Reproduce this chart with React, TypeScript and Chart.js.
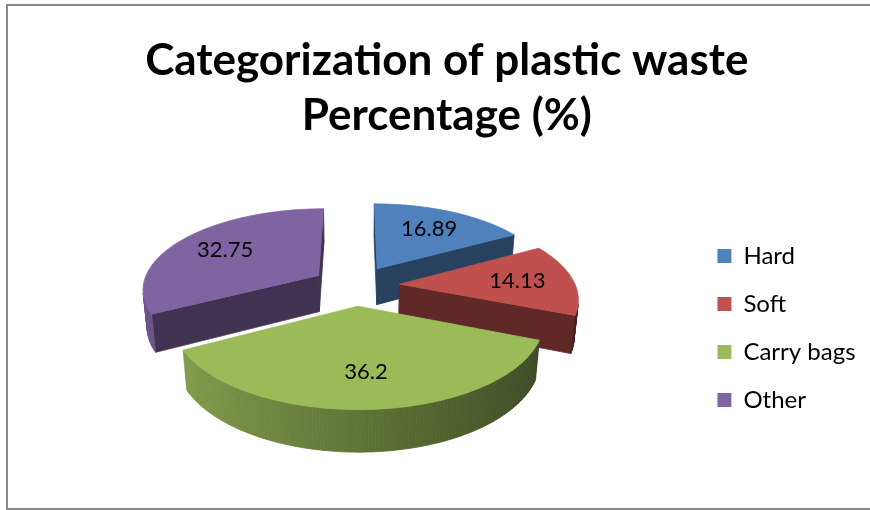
import { useEffect, useRef } from "react";
import { Chart, registerables } from "chart.js";

Chart.register(...registerables);

// Chart content
const titleLines = ["Categorization of plastic waste", "Percentage (%)"];
const categories = ["Hard", "Soft", "Carry bags", "Other"];
const shares = [16.89, 14.13, 36.2, 32.75];
const sliceColors = ["#4F81BD", "#C0504D", "#9BBB59", "#8064A2"];

// 3D view settings (pixels / degrees)
const PIE_RADIUS = 176;
const EXPLODE = 44;
const THICKNESS = 42;
const VIEW_DISTANCE = 1003;
const TILT_DEG = 27;
const LABEL_AT = 0.68;
const CUT_FACE_SHADE = 0.5;

type V3 = [number, number, number];

function hexToRgb(hex: string): [number, number, number] {
  const n = parseInt(hex.slice(1), 16);
  return [(n >> 16) & 255, (n >> 8) & 255, n & 255];
}

function shade(hex: string, f: number): string {
  const [r, g, b] = hexToRgb(hex);
  return `rgb(${Math.round(r * f)},${Math.round(g * f)},${Math.round(b * f)})`;
}

const tilt = (TILT_DEG * Math.PI) / 180;
const sinT = Math.sin(tilt);
const cosT = Math.cos(tilt);

// perspective projection; world X right, Y toward the viewer, Z up
function project(ox: number, oy: number, p: V3): [number, number] {
  const den = VIEW_DISTANCE - p[1] * cosT - p[2] * sinT;
  const k = VIEW_DISTANCE / den;
  return [ox + p[0] * k, oy + (p[1] * sinT - p[2] * cosT) * k];
}

// is a vertical face with horizontal normal n through point p facing the camera
function facesCamera(p: V3, nx: number, ny: number): boolean {
  const cx = 0 - p[0];
  const cy = VIEW_DISTANCE * cosT - p[1];
  return cx * nx + cy * ny > 0;
}

function fillPoly(ctx: CanvasRenderingContext2D, pts: [number, number][], color: string) {
  ctx.beginPath();
  pts.forEach(([x, y], i) => (i ? ctx.lineTo(x, y) : ctx.moveTo(x, y)));
  ctx.closePath();
  ctx.fillStyle = color;
  ctx.strokeStyle = color;
  ctx.lineWidth = 0.8;
  ctx.fill();
  ctx.stroke();
}

const pie3d = {
  id: "pie3d",
  beforeDatasetsDraw(chart: any) {
    const ctx: CanvasRenderingContext2D = chart.ctx;
    const meta = chart.getDatasetMeta(0);
    const values: number[] = chart.data.datasets[0].data;
    const colors: string[] = chart.data.datasets[0].backgroundColor;

    const slices = meta.data.map((arc: any, i: number) => {
      const { x, y, startAngle, endAngle, outerRadius } = arc.getProps(
        ["x", "y", "startAngle", "endAngle", "outerRadius"],
        true
      );
      const mid = (startAngle + endAngle) / 2;
      const off = arc.options.offset || 0;
      const ex = Math.cos(mid) * off;
      const ey = Math.sin(mid) * off;
      const steps = Math.max(2, Math.ceil(((endAngle - startAngle) * 180) / Math.PI));
      const angles: number[] = [];
      for (let j = 0; j <= steps; j++) angles.push(startAngle + ((endAngle - startAngle) * j) / steps);
      return { i, x, y, startAngle, endAngle, mid, r: outerRadius, ex, ey, angles };
    });

    const rimPoint = (s: any, a: number, z: number): V3 => [
      s.ex + s.r * Math.cos(a),
      s.ey + s.r * Math.sin(a),
      z,
    ];

    // centre the projected solid on the chart area centre
    let minX = Infinity, maxX = -Infinity, minY = Infinity, maxY = -Infinity;
    slices.forEach((s: any) => {
      const pts: V3[] = [[s.ex, s.ey, 0], [s.ex, s.ey, -THICKNESS]];
      s.angles.forEach((a: number) => {
        pts.push(rimPoint(s, a, 0), rimPoint(s, a, -THICKNESS));
      });
      pts.forEach((p) => {
        const [px, py] = project(0, 0, p);
        minX = Math.min(minX, px); maxX = Math.max(maxX, px);
        minY = Math.min(minY, py); maxY = Math.max(maxY, py);
      });
    });
    const cx = slices.length ? slices[0].x : 0;
    const cy = slices.length ? slices[0].y : 0;
    const ox = cx - (minX + maxX) / 2;
    const oy = cy - (minY + maxY) / 2;
    const P = (p: V3) => project(ox, oy, p);

    // back-to-front
    const order = [...slices].sort((a: any, b: any) => Math.sin(a.mid) - Math.sin(b.mid));

    ctx.save();
    order.forEach((s: any) => {
      const base = colors[s.i];
      const cTop: V3 = [s.ex, s.ey, 0];
      const cBot: V3 = [s.ex, s.ey, -THICKNESS];

      // radial cut faces
      const cuts = [
        { a: s.startAngle, nx: Math.sin(s.startAngle), ny: -Math.cos(s.startAngle) },
        { a: s.endAngle, nx: -Math.sin(s.endAngle), ny: Math.cos(s.endAngle) },
      ];
      cuts.forEach((cut) => {
        const eTop = rimPoint(s, cut.a, 0);
        const midP: V3 = [(cTop[0] + eTop[0]) / 2, (cTop[1] + eTop[1]) / 2, -THICKNESS / 2];
        if (!facesCamera(midP, cut.nx, cut.ny)) return;
        fillPoly(
          ctx,
          [P(cTop), P(eTop), P(rimPoint(s, cut.a, -THICKNESS)), P(cBot)],
          shade(base, CUT_FACE_SHADE)
        );
      });

      // curved outer wall, lit from the left
      for (let j = 0; j < s.angles.length - 1; j++) {
        const a0 = s.angles[j];
        const a1 = s.angles[j + 1];
        const am = (a0 + a1) / 2;
        const pm = rimPoint(s, am, -THICKNESS / 2);
        if (!facesCamera(pm, Math.cos(am), Math.sin(am))) continue;
        const f = 0.62 - 0.24 * Math.cos(am);
        fillPoly(
          ctx,
          [
            P(rimPoint(s, a0, 0)),
            P(rimPoint(s, a1, 0)),
            P(rimPoint(s, a1, -THICKNESS)),
            P(rimPoint(s, a0, -THICKNESS)),
          ],
          shade(base, f)
        );
      }

      // top face
      const top: [number, number][] = [P(cTop)];
      s.angles.forEach((a: number) => top.push(P(rimPoint(s, a, 0))));
      fillPoly(ctx, top, base);
    });

    // value labels on the top faces
    ctx.fillStyle = "#000";
    ctx.font = "22px Lato";
    ctx.textAlign = "center";
    ctx.textBaseline = "middle";
    slices.forEach((s: any) => {
      const p: V3 = [
        s.ex + LABEL_AT * s.r * Math.cos(s.mid),
        s.ey + LABEL_AT * s.r * Math.sin(s.mid),
        0,
      ];
      const [lx, ly] = P(p);
      ctx.fillText(String(values[s.i]), lx, ly);
    });
    ctx.restore();
    return false;
  },
};

export default function App() {
  const canvasRef = useRef<HTMLCanvasElement | null>(null);

  useEffect(() => {
    if (!canvasRef.current) return;
    const chart = new Chart(canvasRef.current, {
      type: "pie",
      data: {
        labels: categories,
        datasets: [
          {
            data: shares,
            backgroundColor: sliceColors,
            borderWidth: 0,
            offset: EXPLODE,
          },
        ],
      },
      options: {
        responsive: false,
        animation: false,
        events: [],
        radius: PIE_RADIUS,
        layout: { padding: { left: 28, right: 4.4, top: 0, bottom: 4 } },
        plugins: {
          title: {
            display: true,
            text: titleLines,
            color: "#000",
            font: { family: "Lato", size: 44, weight: "bold", lineHeight: 1.25 },
            padding: { top: 33, bottom: 7 },
          },
          legend: {
            position: "right",
            fullSize: false,
            labels: {
              boxWidth: 14,
              boxHeight: 14,
              padding: 24,
              color: "#000",
              font: { family: "Lato", size: 24 },
            },
          },
          tooltip: { enabled: false },
        },
      } as any,
      plugins: [pie3d as any],
    });
    return () => chart.destroy();
  }, []);

  return (
    <div
      style={{
        position: "fixed",
        left: 0,
        top: 0,
        width: 870,
        height: 510,
        overflow: "hidden",
        background: "#fff",
      }}
    >
      <div
        style={{
          position: "absolute",
          left: 6,
          top: 4,
          width: 900,
          height: 506,
          boxSizing: "border-box",
          borderLeft: "2px solid #898989",
          borderTop: "2px solid #898989",
          borderBottom: "2px solid #898989",
        }}
      />
      <canvas
        ref={canvasRef}
        width={870}
        height={510}
        style={{ position: "absolute", left: 0, top: 0 }}
      />
    </div>
  );
}
